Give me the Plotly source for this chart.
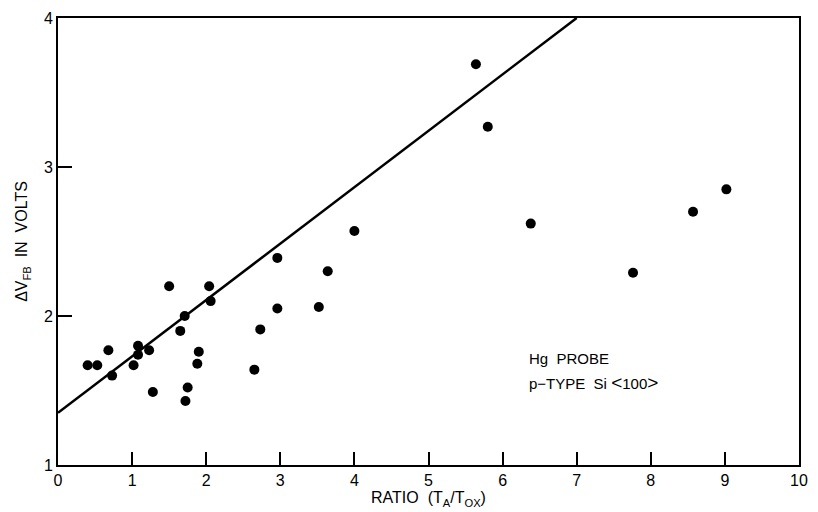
import plotly.graph_objects as go

# Measured data points: ratio (TA/TOX) vs ΔVFB (volts)
ratio = [0.40, 0.53, 0.68, 0.73, 1.02, 1.08, 1.08, 1.23, 1.28, 1.50,
         1.65, 1.71, 1.72, 1.75, 1.88, 1.90, 2.04, 2.06, 2.65, 2.73,
         2.96, 2.96, 3.52, 3.64, 4.00, 5.64, 5.80, 6.38, 7.76, 8.57, 9.02]
dvfb = [1.67, 1.67, 1.77, 1.60, 1.67, 1.80, 1.74, 1.77, 1.49, 2.20,
        1.90, 2.00, 1.43, 1.52, 1.68, 1.76, 2.20, 2.10, 1.64, 1.91,
        2.05, 2.39, 2.06, 2.30, 2.57, 3.69, 3.27, 2.62, 2.29, 2.70, 2.85]

# Fitted straight line (endpoints)
fit_x = [0.0, 7.0]
fit_y = [1.35, 4.0]

x_ticks = [0, 1, 2, 3, 4, 5, 6, 7, 8, 9, 10]
y_ticks = [1, 2, 3, 4]

font_family = "Liberation Sans, Arial, sans-serif"

fig = go.Figure()
fig.add_trace(go.Scatter(x=fit_x, y=fit_y, mode="lines",
                         line=dict(color="black", width=2.5),
                         showlegend=False, hoverinfo="skip"))
fig.add_trace(go.Scatter(x=ratio, y=dvfb, mode="markers",
                         marker=dict(color="black", size=10),
                         showlegend=False))

fig.add_annotation(x=6.33, y=1.715, xref="x", yref="y", text="Hg  PROBE",
                   showarrow=False, xanchor="left", yanchor="middle",
                   font=dict(size=15, color="black", family=font_family))
fig.add_annotation(x=6.33, y=1.555, xref="x", yref="y",
                   text="p\u2212TYPE  Si <span style='font-size:19px'>&lt;</span>100<span style='font-size:19px'>&gt;</span>",
                   showarrow=False, xanchor="left", yanchor="middle",
                   font=dict(size=15, color="black", family=font_family))

fig.update_layout(
    width=818, height=512,
    margin=dict(l=58, r=10, t=15, b=47),
    paper_bgcolor="white", plot_bgcolor="white",
    font=dict(family=font_family, color="black", size=15),
    xaxis=dict(range=[0, 10], tickvals=x_ticks, ticks="inside", ticklen=13,
               tickwidth=2, tickcolor="black", showline=True, linecolor="black",
               linewidth=2, mirror=True, showgrid=False, zeroline=False,
               tickfont=dict(size=16),
               title=dict(text="RATIO  (T<sub>A</sub>/T<sub>OX</sub>)",
                          font=dict(size=16), standoff=2)),
    yaxis=dict(range=[1, 4], tickvals=y_ticks, ticks="inside", ticklen=14,
               tickwidth=2, tickcolor="black", showline=True, linecolor="black",
               linewidth=2, mirror=True, showgrid=False, zeroline=False,
               tickfont=dict(size=16),
               title=dict(text="\u0394V<sub>FB</sub>  IN  VOLTS",
                          font=dict(size=16), standoff=12)),
)

fig.write_html("out.html")
